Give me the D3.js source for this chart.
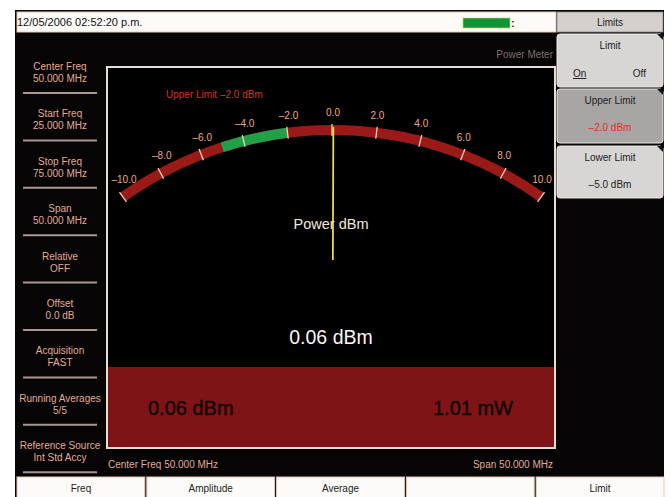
<!DOCTYPE html>
<html>
<head>
<meta charset="utf-8">
<script src="https://cdn.jsdelivr.net/npm/d3@7/dist/d3.min.js"></script>
<style>
body { margin: 0; background: #fff; }
text { font-family: "Liberation Sans", Arial, sans-serif; }
</style>
</head>
<body>
<div id="chart"></div>
<script>
var timeStamp = "12/05/2006 02:52:20 p.m.";
var tickValues = [-10, -8, -6, -4, -2, 0, 2, 4, 6, 8, 10];
var tickLabels = ["-10.0", "-8.0", "-6.0", "-4.0", "-2.0", "0.0", "2.0", "4.0", "6.0", "8.0", "10.0"];
var readingDbm = 0.06;
var readingMw = 1.01;
var upperLimit = -2.0;
var lowerLimit = -5.0;
var sideKeys = [
    ["Center Freq", "50.000 MHz"],
    ["Start Freq", "25.000 MHz"],
    ["Stop Freq", "75.000 MHz"],
    ["Span", "50.000 MHz"],
    ["Relative", "OFF"],
    ["Offset", "0.0 dB"],
    ["Acquisition", "FAST"],
    ["Running Averages", "5/5"],
    ["Reference Source", "Int Std Accy"]
];
var bottomKeys = ["Freq", "Amplitude", "Average", "", "Limit"];
var centerFreq = "Center Freq 50.000 MHz";
var spanText = "Span 50.000 MHz";

var width = 671, height = 497;
var svg = d3.select("#chart").append("svg")
    .attr("width", width)
    .attr("height", height);

svg.append("rect").attr("width", width).attr("height", height).attr("fill", "#fff");

// instrument screen
svg.append("rect")
    .attr("x", 15).attr("y", 10).attr("width", 649).attr("height", 487)
    .attr("fill", "#060404");

// title bar
svg.append("rect")
    .attr("x", 17).attr("y", 12).attr("width", 539).attr("height", 20)
    .attr("fill", "#fdfbf8").attr("stroke", "#e8c8b8").attr("stroke-width", 1);
svg.append("text")
    .attr("x", 17).attr("y", 26)
    .attr("font-size", 11).attr("fill", "#111")
    .text(timeStamp);
svg.append("rect")
    .attr("x", 463).attr("y", 18).attr("width", 47).attr("height", 10)
    .attr("fill", "#12923a").attr("stroke", "#c8d060").attr("stroke-width", 0.7);
svg.append("text")
    .attr("x", 511).attr("y", 27).attr("font-size", 11).attr("font-weight", "bold").attr("fill", "#333")
    .text(":");

// limits header
svg.append("rect")
    .attr("x", 557).attr("y", 12).attr("width", 106).attr("height", 20)
    .attr("fill", "#d4d0ce").attr("stroke", "#888").attr("stroke-width", 0.8);
svg.append("text")
    .attr("x", 610).attr("y", 26).attr("text-anchor", "middle")
    .attr("font-size", 10).attr("fill", "#222").text("Limits");

// right soft keys
var rightKeys = [
    {y: 34, h: 53, fill: "#d8d6d4", title: "Limit"},
    {y: 89, h: 54, fill: "#a8a6a4", title: "Upper Limit", value: upperLimit.toFixed(1) + " dBm", valueFill: "#e0302a"},
    {y: 146, h: 52, fill: "#d8d6d4", title: "Lower Limit", value: lowerLimit.toFixed(1) + " dBm", valueFill: "#222"}
];
var rk = svg.selectAll("g.rkey")
    .data(rightKeys)
    .enter().append("g")
    .attr("class", "rkey")
    .attr("transform", function (d) { return "translate(557," + d.y + ")"; });
rk.append("rect")
    .attr("width", 106).attr("height", function (d) { return d.h; })
    .attr("rx", 3)
    .attr("fill", function (d) { return d.fill; })
    .attr("stroke", "#f0e8e4").attr("stroke-width", 1);
rk.append("path")
    .attr("d", "M100,0 L106,0 L106,6 Z")
    .attr("fill", "#111");
rk.append("text")
    .attr("x", 53).attr("y", 15).attr("text-anchor", "middle")
    .attr("font-size", 10).attr("fill", "#222")
    .text(function (d) { return d.title; });
rk.filter(function (d) { return d.value; }).append("text")
    .attr("x", 53).attr("y", 42).attr("text-anchor", "middle")
    .attr("font-size", 10)
    .attr("fill", function (d) { return d.valueFill; })
    .text(function (d) { return d.value.replace("-", "\u2013"); });
svg.append("text")
    .attr("x", 573).attr("y", 77).attr("font-size", 10).attr("fill", "#222")
    .attr("text-decoration", "underline").text("On");
svg.append("text")
    .attr("x", 646).attr("y", 77).attr("font-size", 10).attr("fill", "#222")
    .attr("text-anchor", "end").text("Off");

// left soft keys
var sideY = d3.scaleLinear().domain([0, sideKeys.length]).range([66, 66 + 47.4 * sideKeys.length]);
var sk = svg.selectAll("g.skey")
    .data(sideKeys)
    .enter().append("g")
    .attr("class", "skey")
    .attr("transform", function (d, i) { return "translate(60," + sideY(i) + ")"; });
sk.append("text")
    .attr("y", 4).attr("text-anchor", "middle")
    .attr("font-size", 10).attr("fill", "#e4aa98")
    .text(function (d) { return d[0]; });
sk.append("text")
    .attr("y", 16).attr("text-anchor", "middle")
    .attr("font-size", 10).attr("fill", "#e4aa98")
    .text(function (d) { return d[1]; });
sk.append("line")
    .attr("x1", -37).attr("x2", 37).attr("y1", 27).attr("y2", 27)
    .attr("stroke", "#a89894").attr("stroke-width", 2);

// "Power Meter"
svg.append("text")
    .attr("x", 553).attr("y", 58).attr("text-anchor", "end")
    .attr("font-size", 10).attr("fill", "#807070").text("Power Meter");

// main frame
svg.append("rect")
    .attr("x", 107).attr("y", 67).attr("width", 448).attr("height", 381)
    .attr("fill", "#000").attr("stroke", "#e8dcd6").attr("stroke-width", 2);

// gauge
var cx = 332, cy = 490, radius = 360;
var angle = d3.scaleLinear()
    .domain([tickValues[0], tickValues[tickValues.length - 1]])
    .range([-35.5 * Math.PI / 180, 35.5 * Math.PI / 180]);

var gauge = svg.append("g").attr("transform", "translate(" + cx + "," + cy + ")");
var band = d3.arc().innerRadius(radius - 5).outerRadius(radius + 5);

gauge.append("path")
    .attr("d", band({startAngle: angle(tickValues[0]), endAngle: angle(tickValues[tickValues.length - 1])}))
    .attr("fill", "#9a1a18");
gauge.append("path")
    .attr("d", band({startAngle: angle(lowerLimit), endAngle: angle(upperLimit)}))
    .attr("fill", "#22a048");

gauge.selectAll("line.tick")
    .data(tickValues)
    .enter().append("line")
    .attr("class", "tick")
    .attr("x1", function (d) { return (radius - 6) * Math.sin(angle(d)); })
    .attr("y1", function (d) { return -(radius - 6) * Math.cos(angle(d)); })
    .attr("x2", function (d) { return (radius + 6) * Math.sin(angle(d)); })
    .attr("y2", function (d) { return -(radius + 6) * Math.cos(angle(d)); })
    .attr("stroke", "#f4d0c0").attr("stroke-width", 1.3);

gauge.selectAll("text.tlabel")
    .data(tickValues)
    .enter().append("text")
    .attr("class", "tlabel")
    .attr("x", function (d) { return radius * Math.sin(angle(d)) + 1; })
    .attr("y", function (d) { return -radius * Math.cos(angle(d)) - 14; })
    .attr("text-anchor", "middle")
    .attr("font-size", 10).attr("fill", "#f0a68c")
    .text(function (d, i) { return tickLabels[i].replace("-", "\u2013"); });

svg.append("text")
    .attr("x", 166).attr("y", 98)
    .attr("font-size", 10).attr("fill", "#d8322a")
    .text("Upper Limit \u2013" + Math.abs(upperLimit).toFixed(1) + " dBm");

// needle
gauge.append("line")
    .attr("x1", 230 * Math.sin(angle(readingDbm)))
    .attr("y1", -230 * Math.cos(angle(readingDbm)))
    .attr("x2", (radius + 3) * Math.sin(angle(readingDbm)))
    .attr("y2", -(radius + 3) * Math.cos(angle(readingDbm)))
    .attr("stroke", "#f0d848").attr("stroke-width", 1.8);

svg.append("text")
    .attr("x", 331).attr("y", 229).attr("text-anchor", "middle")
    .attr("font-size", 14.5).attr("fill", "#f4e8de").text("Power dBm");

svg.append("text")
    .attr("x", 331).attr("y", 344).attr("text-anchor", "middle")
    .attr("font-size", 19.5).attr("fill", "#fbf6f2").text(readingDbm.toFixed(2) + " dBm");

// readout box
svg.append("rect")
    .attr("x", 108).attr("y", 367).attr("width", 446).attr("height", 80)
    .attr("fill", "#7e1416");
svg.append("text")
    .attr("x", 148).attr("y", 415)
    .attr("font-size", 20).attr("fill", "#100404")
    .attr("stroke", "#100404").attr("stroke-width", 0.4)
    .text(readingDbm.toFixed(2) + " dBm");
svg.append("text")
    .attr("x", 513).attr("y", 415).attr("text-anchor", "end")
    .attr("font-size", 20).attr("fill", "#100404")
    .attr("stroke", "#100404").attr("stroke-width", 0.4)
    .text(readingMw.toFixed(2) + " mW");

// status line
svg.append("text")
    .attr("x", 108).attr("y", 468).attr("font-size", 10).attr("fill", "#e4aa98")
    .text(centerFreq);
svg.append("text")
    .attr("x", 553).attr("y", 468).attr("text-anchor", "end")
    .attr("font-size", 10).attr("fill", "#e4aa98")
    .text(spanText);

// bottom soft keys
var bx = d3.scaleBand().domain(d3.range(bottomKeys.length)).range([17, 664]).paddingInner(0.015);
var bk = svg.selectAll("g.bkey")
    .data(bottomKeys)
    .enter().append("g")
    .attr("class", "bkey")
    .attr("transform", function (d, i) { return "translate(" + bx(i) + ",477)"; });
bk.append("rect")
    .attr("width", bx.bandwidth()).attr("height", 22)
    .attr("fill", "#fdfbf9").attr("stroke", "#e8c8b8").attr("stroke-width", 1);
bk.append("text")
    .attr("x", bx.bandwidth() / 2).attr("y", 15).attr("text-anchor", "middle")
    .attr("font-size", 10).attr("fill", "#222")
    .text(function (d) { return d; });
</script>
</body>
</html>
